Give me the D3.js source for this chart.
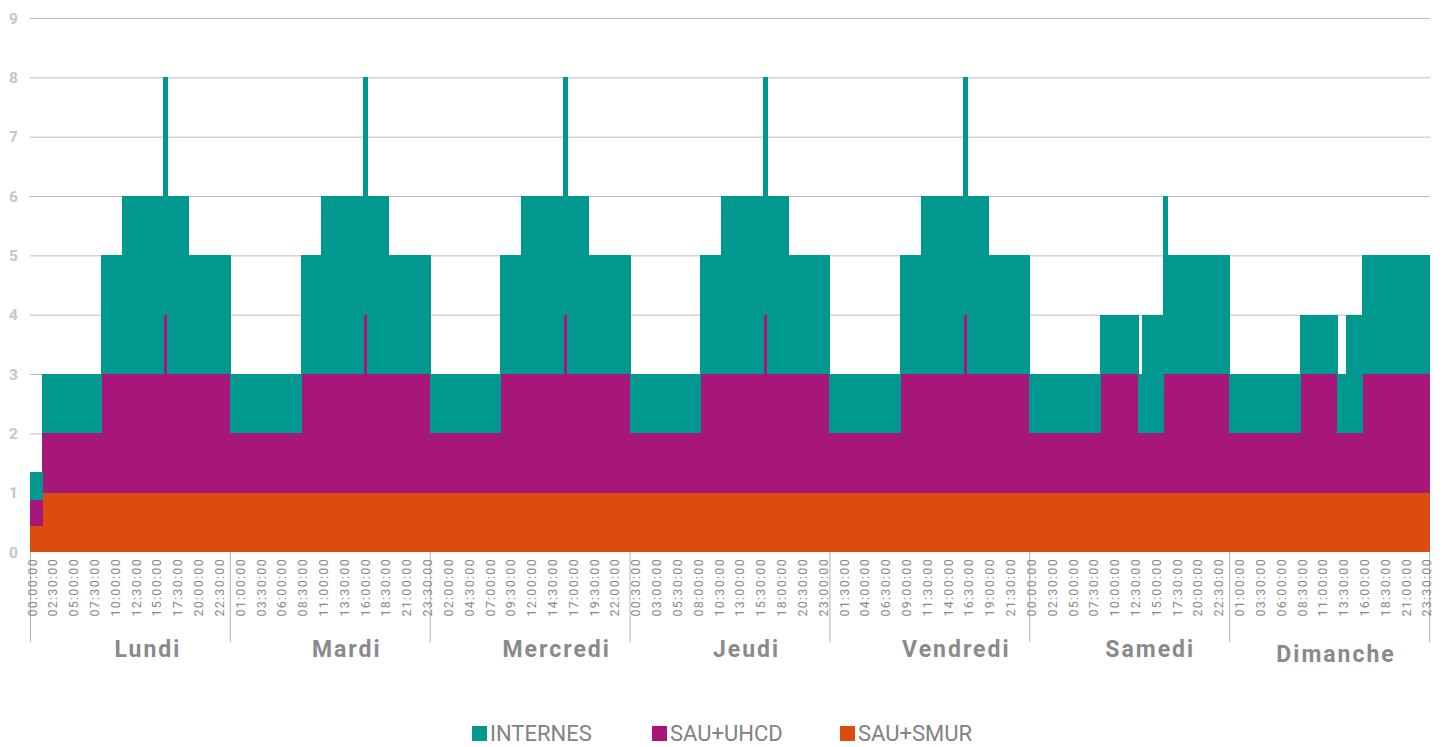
<!DOCTYPE html>
<html lang="fr">
<head>
<meta charset="utf-8">
<title>Effectifs par demi-heure</title>
<script src="https://cdn.jsdelivr.net/npm/d3@7/dist/d3.min.js"></script>
<style>
  html, body { margin: 0; padding: 0; background: #ffffff; }
  svg { display: block; font-family: Roboto, "Noto Sans", sans-serif; }
</style>
</head>
<body>
<svg id="chart" width="1446" height="747"></svg>
<script>
// Jours de la semaine
const days = ["Lundi", "Mardi", "Mercredi", "Jeudi", "Vendredi", "Samedi", "Dimanche"];

// Libellés des créneaux d'une demi-heure
const slotLabels = [
  "00:00:00","00:30:00","01:00:00","01:30:00","02:00:00","02:30:00","03:00:00","03:30:00",
  "04:00:00","04:30:00","05:00:00","05:30:00","06:00:00","06:30:00","07:00:00","07:30:00",
  "08:00:00","08:30:00","09:00:00","09:30:00","10:00:00","10:30:00","11:00:00","11:30:00",
  "12:00:00","12:30:00","13:00:00","13:30:00","14:00:00","14:30:00","15:00:00","15:30:00",
  "16:00:00","16:30:00","17:00:00","17:30:00","18:00:00","18:30:00","19:00:00","19:30:00",
  "20:00:00","20:30:00","21:00:00","21:30:00","22:00:00","22:30:00","23:00:00","23:30:00"
];

const yTicks = [0, 1, 2, 3, 4, 5, 6, 7, 8, 9];

const seriesNames = ["SAU+SMUR", "SAU+UHCD", "INTERNES"];
const seriesColors = ["#dc4c0e", "#a7177a", "#00988f"];

// SAU+SMUR : un jour = 48 demi-heures
const sauSmur = [
  [0.43,0.43,0.43,1,1,1,1,1,1,1,1,1, 1,1,1,1,1,1,1,1,1,1,1,1, 1,1,1,1,1,1,1,1,1,1,1,1, 1,1,1,1,1,1,1,1,1,1,1,1],
  [1,1,1,1,1,1,1,1,1,1,1,1, 1,1,1,1,1,1,1,1,1,1,1,1, 1,1,1,1,1,1,1,1,1,1,1,1, 1,1,1,1,1,1,1,1,1,1,1,1],
  [1,1,1,1,1,1,1,1,1,1,1,1, 1,1,1,1,1,1,1,1,1,1,1,1, 1,1,1,1,1,1,1,1,1,1,1,1, 1,1,1,1,1,1,1,1,1,1,1,1],
  [1,1,1,1,1,1,1,1,1,1,1,1, 1,1,1,1,1,1,1,1,1,1,1,1, 1,1,1,1,1,1,1,1,1,1,1,1, 1,1,1,1,1,1,1,1,1,1,1,1],
  [1,1,1,1,1,1,1,1,1,1,1,1, 1,1,1,1,1,1,1,1,1,1,1,1, 1,1,1,1,1,1,1,1,1,1,1,1, 1,1,1,1,1,1,1,1,1,1,1,1],
  [1,1,1,1,1,1,1,1,1,1,1,1, 1,1,1,1,1,1,1,1,1,1,1,1, 1,1,1,1,1,1,1,1,1,1,1,1, 1,1,1,1,1,1,1,1,1,1,1,1],
  [1,1,1,1,1,1,1,1,1,1,1,1, 1,1,1,1,1,1,1,1,1,1,1,1, 1,1,1,1,1,1,1,1,1,1,1,1, 1,1,1,1,1,1,1,1,1,1,1,1]
];

// SAU+UHCD
const sauUhcd = [
  [0.45,0.45,0.45,1,1,1,1,1,1,1,1,1, 1,1,1,1,1,2,2,2,2,2,2,2, 2,2,2,2,2,2,2,2,3,2,2,2, 2,2,2,2,2,2,2,2,2,2,2,2],
  [1,1,1,1,1,1,1,1,1,1,1,1, 1,1,1,1,1,2,2,2,2,2,2,2, 2,2,2,2,2,2,2,2,3,2,2,2, 2,2,2,2,2,2,2,2,2,2,2,2],
  [1,1,1,1,1,1,1,1,1,1,1,1, 1,1,1,1,1,2,2,2,2,2,2,2, 2,2,2,2,2,2,2,2,3,2,2,2, 2,2,2,2,2,2,2,2,2,2,2,2],
  [1,1,1,1,1,1,1,1,1,1,1,1, 1,1,1,1,1,2,2,2,2,2,2,2, 2,2,2,2,2,2,2,2,3,2,2,2, 2,2,2,2,2,2,2,2,2,2,2,2],
  [1,1,1,1,1,1,1,1,1,1,1,1, 1,1,1,1,1,2,2,2,2,2,2,2, 2,2,2,2,2,2,2,2,3,2,2,2, 2,2,2,2,2,2,2,2,2,2,2,2],
  [1,1,1,1,1,1,1,1,1,1,1,1, 1,1,1,1,1,2,2,2,2,2,2,2, 2,2,1,1,1,1,1,1,2,2,2,2, 2,2,2,2,2,2,2,2,2,2,2,2],
  [1,1,1,1,1,1,1,1,1,1,1,1, 1,1,1,1,1,2,2,2,2,2,2,2, 2,2,1,1,1,1,1,1,2,2,2,2, 2,2,2,2,2,2,2,2,2,2,2,2]
];

// INTERNES
const internes = [
  [0.47,0.47,0.47,1,1,1,1,1,1,1,1,1, 1,1,1,1,1,2,2,2,2,2,3,3, 3,3,3,3,3,3,3,3,4,3,3,3, 3,3,2,2,2,2,2,2,2,2,2,2],
  [1,1,1,1,1,1,1,1,1,1,1,1, 1,1,1,1,1,2,2,2,2,2,3,3, 3,3,3,3,3,3,3,3,4,3,3,3, 3,3,2,2,2,2,2,2,2,2,2,2],
  [1,1,1,1,1,1,1,1,1,1,1,1, 1,1,1,1,1,2,2,2,2,2,3,3, 3,3,3,3,3,3,3,3,4,3,3,3, 3,3,2,2,2,2,2,2,2,2,2,2],
  [1,1,1,1,1,1,1,1,1,1,1,1, 1,1,1,1,1,2,2,2,2,2,3,3, 3,3,3,3,3,3,3,3,4,3,3,3, 3,3,2,2,2,2,2,2,2,2,2,2],
  [1,1,1,1,1,1,1,1,1,1,1,1, 1,1,1,1,1,2,2,2,2,2,3,3, 3,3,3,3,3,3,3,3,4,3,3,3, 3,3,2,2,2,2,2,2,2,2,2,2],
  [1,1,1,1,1,1,1,1,1,1,1,1, 1,1,1,1,1,1,1,1,1,1,1,1, 1,1,1,2,2,2,2,2,3,2,2,2, 2,2,2,2,2,2,2,2,2,2,2,2],
  [1,1,1,1,1,1,1,1,1,1,1,1, 1,1,1,1,1,1,1,1,1,1,1,1, 1,1,1,1,2,2,2,2,2,2,2,2, 2,2,2,2,2,2,2,2,2,2,2,2]
];

// Décalage des libellés de jour sous l'axe
const dayLabelShift = [18, 17, 27, 17, 27, 21, 7];
const dayLabelDrop = [0, 0, 0, 0, 0, 0, 5];

// Une ligne par créneau de la semaine
const rows = [];
days.forEach((day, d) => {
  slotLabels.forEach((label, s) => {
    rows.push({
      index: d * slotLabels.length + s,
      day: day,
      label: label,
      "SAU+SMUR": sauSmur[d][s],
      "SAU+UHCD": sauUhcd[d][s],
      "INTERNES": internes[d][s]
    });
  });
});

const svg = d3.select("#chart");
const plotLeft = 30, plotRight = 1429, plotTop = 18, plotBottom = 552;

const x = d3.scaleBand()
  .domain(rows.map(r => r.index))
  .range([plotLeft, plotRight])
  .paddingInner(0)
  .paddingOuter(0);

const y = d3.scaleLinear()
  .domain([0, 9])
  .range([plotBottom, plotTop]);

const color = d3.scaleOrdinal().domain(seriesNames).range(seriesColors);

// Quadrillage horizontal
svg.append("g")
  .selectAll("line")
  .data(yTicks.filter(t => t > 0))
  .join("line")
  .attr("x1", plotLeft)
  .attr("x2", plotRight + 1)
  .attr("y1", d => y(d) + 0.5)
  .attr("y2", d => y(d) + 0.5)
  .attr("stroke", "#bdbdbd")
  .attr("stroke-width", 1);

// Graduations de l'axe vertical
svg.append("g")
  .selectAll("text")
  .data(yTicks)
  .join("text")
  .attr("x", 18)
  .attr("y", d => y(d))
  .attr("dy", "0.36em")
  .attr("text-anchor", "end")
  .attr("font-size", 15.5)
  .attr("font-weight", 700)
  .attr("fill", "#c6c6c6")
  .text(d => d);

// Colonnes empilées
const stack = d3.stack().keys(seriesNames);
const stacked = stack(rows);

svg.append("g")
  .attr("shape-rendering", "crispEdges")
  .selectAll("g")
  .data(stacked)
  .join("g")
  .attr("fill", s => color(s.key))
  .selectAll("rect")
  .data(s => s)
  .join("rect")
  .attr("x", d => x(d.data.index))
  .attr("width", x.bandwidth() + 1)
  .attr("y", d => y(d[1]))
  .attr("height", d => y(d[0]) - y(d[1]));

// Séparateurs de jours
const dayBounds = d3.range(days.length + 1);
svg.append("g")
  .selectAll("line")
  .data(dayBounds)
  .join("line")
  .attr("x1", d => d < days.length ? x(d * slotLabels.length) + 0.5 : plotRight + 0.5)
  .attr("x2", d => d < days.length ? x(d * slotLabels.length) + 0.5 : plotRight + 0.5)
  .attr("y1", plotBottom)
  .attr("y2", 642)
  .attr("stroke", "#b3b3b3")
  .attr("stroke-width", 1);

// Libellés des créneaux (un sur cinq)
svg.append("g")
  .selectAll("text")
  .data(rows.filter(r => r.index % 5 === 0))
  .join("text")
  .attr("transform", r => `translate(${x(r.index) + x.bandwidth() / 2},558) rotate(-90)`)
  .attr("dy", "0.36em")
  .attr("text-anchor", "end")
  .attr("font-size", 12.5)
  .attr("letter-spacing", "1.3px")
  .attr("fill", "#888888")
  .text(r => r.label);

// Libellés des jours
svg.append("g")
  .selectAll("text")
  .data(days)
  .join("text")
  .attr("x", (d, i) => x(i * slotLabels.length) + slotLabels.length * x.bandwidth() / 2 + dayLabelShift[i])
  .attr("y", (d, i) => 657 + dayLabelDrop[i])
  .attr("text-anchor", "middle")
  .attr("font-size", 23)
  .attr("font-weight", 700)
  .attr("letter-spacing", "2px")
  .attr("fill", "#8a8a8a")
  .text(d => d);

// Légende
const legendItems = ["INTERNES", "SAU+UHCD", "SAU+SMUR"];
const legendX = [472, 652, 840];
const legend = svg.append("g")
  .selectAll("g")
  .data(legendItems)
  .join("g")
  .attr("transform", (d, i) => `translate(${legendX[i]},726)`);

legend.append("rect")
  .attr("width", 15)
  .attr("height", 15)
  .attr("fill", d => color(d));

legend.append("text")
  .attr("x", 18)
  .attr("y", 15)
  .attr("font-size", 22)
  .attr("fill", "#828282")
  .text(d => d);
</script>
</body>
</html>
